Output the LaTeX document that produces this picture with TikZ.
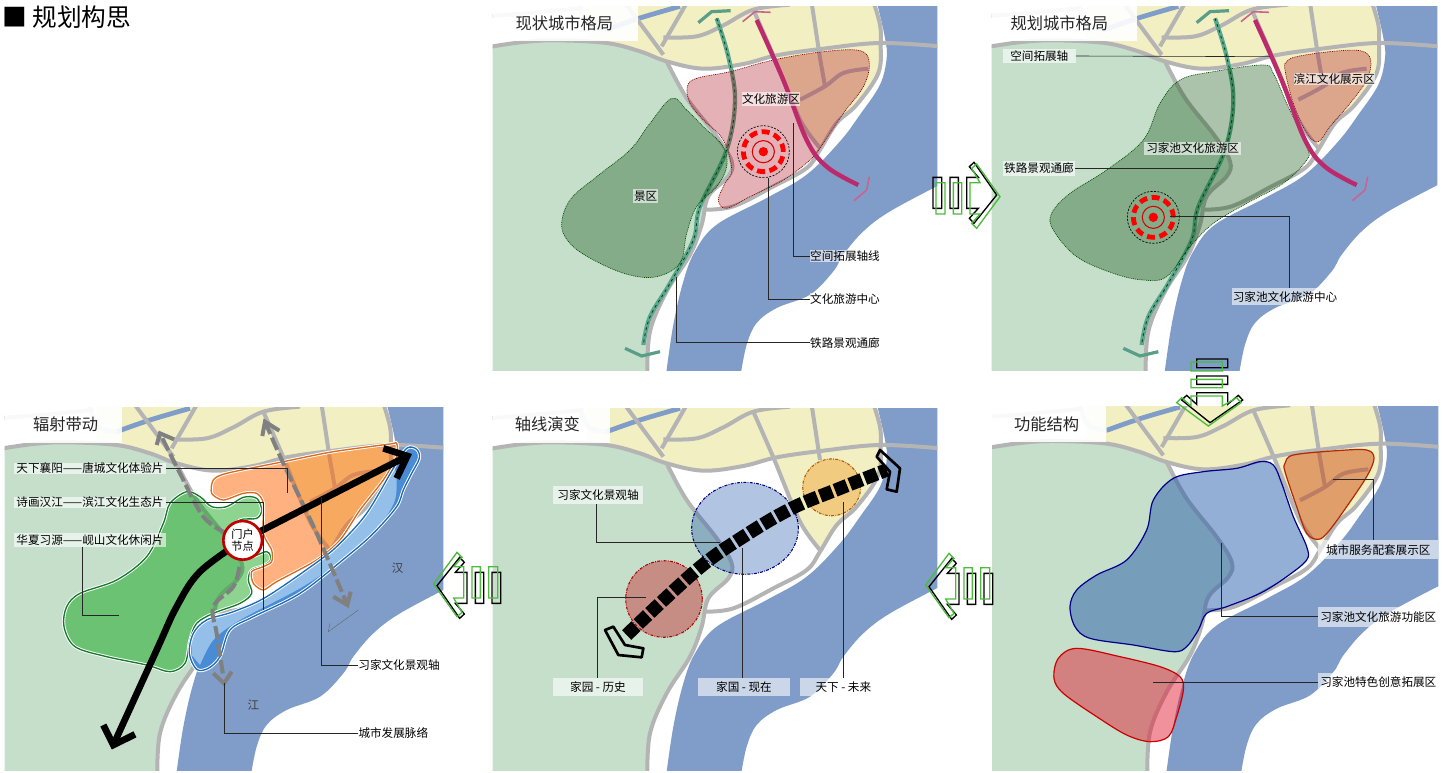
\documentclass[tikz,border=0pt]{standalone}
\usepackage{fontspec}
\newfontfamily\cjk{Noto Sans CJK SC}
\usetikzlibrary{calc}
\definecolor{land}{HTML}{C5DFCB}
\definecolor{yel}{HTML}{F2EFC2}
\definecolor{riv}{HTML}{7F9DC8}
\definecolor{roadc}{HTML}{B4B4B4}
\definecolor{pinkax}{HTML}{BC2A6C}
\definecolor{pinkhd}{HTML}{C8648F}
\definecolor{greenax}{HTML}{5AA68E}
\definecolor{greenhd}{HTML}{5A9E88}
\definecolor{flowgreen}{HTML}{4CBB3C}
\definecolor{bzdark}{HTML}{4A8BD6}
\definecolor{bzlight}{HTML}{93BFE8}
\definecolor{bzline}{HTML}{1A6BB8}
\definecolor{ozline}{HTML}{D86A1E}
\definecolor{gzline}{HTML}{157A2C}
\tikzset{
  roadline/.style={draw=roadc,line width=3pt,line join=round},
  lead/.style={draw=black!85,line width=.45pt},
  labtxt/.style={font=\cjk\fontsize{8.7}{10}\selectfont,inner sep=0pt},
  labbox/.style={labtxt,fill=white,fill opacity=.6,text opacity=1},
  ttl/.style={font=\cjk\fontsize{12.2}{14}\selectfont,inner sep=0pt,text=black!85},
  dotz/.style={draw=#1,line width=.5pt,dash pattern=on .7pt off .7pt},
  grayarrow/.style={draw=black!50,line width=3pt,dash pattern=on 10pt off 3pt},
  grayhead/.style={draw=black!50,line width=3pt},
  blackarrow/.style={draw=black,line width=5pt},
  blackhead/.style={draw=black,line width=5pt,miter limit=10},
  endbox/.style={draw=black,line width=2pt,line join=round},
}
\newcommand\lab[6]{\node[labbox,minimum width=#4*.25pt,minimum height=#5*.25pt] (#1) at (#2,#3) {#6};}
\newcommand\basemap{%
  \fill[land] plot[smooth,tension=.6] coordinates {(-10,148)(100,132)(200,127)(350,135)(450,160)(530,190)(590,300)(680,415)(725,490)(715,535)(655,595)(635,680)(600,770)(530,880)(480,1000)(472,1130)} -- (-10,1130) -- cycle;
  \fill[yel] plot[smooth,tension=.6] coordinates {(1150,10)(1170,80)(1172,135)(1165,225)(1100,320)(1040,375)(990,450)} -- plot[smooth,tension=.5] coordinates {(990,450)(930,365)(850,172)} -- plot[smooth,tension=.6] coordinates {(850,172)(760,198)(640,212)(530,190)(450,160)(350,135)(290,128)} -- (290,10) -- cycle;
  \fill[riv] plot[smooth,tension=.6] coordinates {(1160,10)(1185,120)(1190,180)(1170,260)(1110,350)(1050,430)(950,530)(830,600)(680,680)(615,760)(580,850)(550,980)(528,1130)} -- plot[smooth,tension=.6] coordinates {(752,1130)(770,1040)(800,975)(860,930)(960,890)(1030,820)(1060,770)(1120,700)(1200,640)(1350,560)} -- (1350,10) -- cycle;
  \draw[riv,line width=3.6pt] plot[smooth,tension=.6] coordinates {(350,95)(450,60)(570,25)};
  \draw[riv!45,line width=3.6pt] plot[smooth,tension=.6] coordinates {(270,20)(295,80)(350,95)};
  \draw[roadc!70,line width=3pt] plot[smooth,tension=.6] coordinates {(-10,55)(120,45)(280,30)};
  \draw[roadline] plot[smooth,tension=.6] coordinates {(-10,148)(100,132)(200,127)(350,135)(450,160)(530,190)(640,212)(760,198)(860,172)(1000,152)(1170,135)(1350,145)};
  \draw[roadline] plot[smooth,tension=.6] coordinates {(530,190)(590,300)(680,415)(725,490)(715,535)(655,595)(635,680)(600,770)(530,880)(480,1000)(472,1130)};
  \draw[roadline] (405,15) -- (520,170);
  \draw[roadline] (590,15) -- (515,145);
  \draw[roadline] plot[smooth,tension=.6] coordinates {(520,118)(620,115)(700,82)(790,35)(900,20)};
  \draw[roadline] plot[smooth,tension=.5] coordinates {(790,35)(850,172)(930,365)(990,450)};
  \draw[roadline] (965,15) -- (990,180);
  \draw[roadline] plot[smooth,tension=.6] coordinates {(1150,10)(1170,80)(1172,135)(1165,225)(1100,320)(1040,375)(990,455)(950,510)(850,565)(730,625)(640,635)};
}
\newcommand\localroads{%
  \draw[roadline] (990,180) -- (1005,265);
  \draw[roadline] plot[smooth,tension=.6] coordinates {(930,305)(1005,265)(1060,225)(1135,212)};
}
\newcommand\mapin[7]{%
  \begin{scope}
    \clip (#3,#4) rectangle (#5,#6);
    \begin{scope}[shift={(#1,#2)}]
      \basemap #7
    \end{scope}
  \end{scope}}
\newcommand\target[1]{%
  \draw[black,line width=.5pt,dash pattern=on 1.6pt off 1pt] (#1) circle[radius=19.5pt];
  \draw[red,line width=3.6pt,dash pattern=on 6pt off 3.4pt] (#1) circle[radius=15pt];
  \draw[red!85!black,line width=.8pt] (#1) circle[radius=8.3pt];
  \fill[red] (#1) circle[radius=3.5pt];
}
\newcommand\greenaxis{%
  \draw[greenax,line width=3.2pt] plot[smooth,tension=.6] coordinates {(680,55)(715,170)(735,300)(710,450)(630,620)(610,720)(540,850)(480,950)(460,1035)};
  \draw[black!75!green,line width=.6pt,dash pattern=on 2pt off 2.6pt] plot[smooth,tension=.6] coordinates {(680,55)(715,170)(735,300)(710,450)(630,620)(610,720)(540,850)(480,950)(460,1035)};
  \draw[greenhd,line width=2.4pt] (625,68) -- (665,35) -- (722,32);
  \draw[greenhd,line width=2.4pt] (405,1045) -- (455,1068) -- (510,1055);
}
\newcommand\pinkaxis{%
  \draw[pinkax,line width=3.3pt] plot[smooth,tension=.6] coordinates {(800,60)(880,240)(950,420)(1010,500)(1105,555)};
  \draw[pinkhd,line width=1.2pt] (758,65) -- (795,35) -- (842,37);
  \draw[pinkhd,line width=1.2pt] (1092,602) -- (1130,570) -- (1138,530);
}
\newcommand\flowicon[3]{%
  \begin{scope}[shift={(#1,#2)},rotate=#3]
    \draw[black,line width=1pt] (-101,-48) rectangle (-75,45) (-50,-48) rectangle (-25,45)
      (0,-48) -- (35,-48) -- (8,-80) -- (22,-93) -- (90,5) -- (22,90) -- (8,75) -- (35,45) -- (0,45) -- cycle;
    \draw[flowgreen,line width=1pt] (-92,-32) rectangle (-65,62) (-40,-32) rectangle (-15,62)
      (10,-32) -- (40,-32) -- (15,-75) -- (30,-88) -- (100,10) -- (30,105) -- (15,90) -- (40,62) -- (10,62) -- cycle;
  \end{scope}}
\begin{document}
\begin{tikzpicture}[x=.25pt,y=-.25pt]
\useasboundingbox (0,0) rectangle (4326,2316);
\fill[white] (0,0) rectangle (4326,2316);
\node[anchor=west,font=\cjk\fontsize{18.5}{20}\selectfont,inner sep=0pt] (heading) at (6,51) {■ 规划构思};
% ---------------- top middle
\mapin{1470}{-6}{1478}{18}{2812}{1110}{\localroads}
\begin{scope}[shift={(1470,0)}]
  \fill[white,fill opacity=.9] (8,18) rectangle (445,122);
  \node[ttl] (t1) at (223,70) {现状城市格局};
  \greenaxis
  \path[fill={rgb,255:red,168;green,0;blue,15},fill opacity=.3,dotz=red!50!black] plot[smooth cycle,tension=.6] coordinates {(592,260)(620,235)(720,215)(850,180)(1000,155)(1110,152)(1138,190)(1120,260)(1060,340)(1000,430)(960,480)(880,540)(780,590)(710,625)(685,600)(705,550)(725,510)(700,420)(640,360)(600,310)};
  \path[fill={rgb,255:red,0;green,70;blue,0},fill opacity=.33,dotz=black!70!green] plot[smooth cycle,tension=.6] coordinates {(545,295)(590,330)(640,380)(700,440)(710,500)(680,560)(620,620)(590,700)(570,790)(500,830)(420,825)(330,790)(250,740)(215,680)(240,600)(320,530)(420,450)(480,370)};
  \pinkaxis
  \coordinate (tc1) at (820,455);
  \target{tc1}
  \lab{a1}{843}{298}{175}{42}{文化旅游区}
  \lab{a2}{467}{588}{75}{40}{景区}
  \lab{a3}{1065}{768}{210}{36}{空间拓展轴线}
  \lab{a4}{1065}{898}{210}{36}{文化旅游中心}
  \lab{a5}{1065}{1028}{210}{36}{铁路景观通廊}
  \coordinate (a3s) at (910,370);
  \coordinate (a4s) at (835,535);
  \coordinate (a5s) at (558,830);
  \draw[lead] (a3s) |- (a3.west);
  \draw[lead] (a4s) |- (a4.west);
  \draw[lead] (a5s) |- (a5.west);
\end{scope}
% ---------------- top right
\mapin{2965}{-6}{2975}{18}{4312}{1110}{\localroads}
\begin{scope}[shift={(2790,0)}]
  \fill[white,fill opacity=.9] (185,18) rectangle (620,122);
  \node[ttl] (t2) at (388,70) {规划城市格局};
  \begin{scope}[shift={(175,0)}]\greenaxis\end{scope}
  \path[fill={rgb,255:red,0;green,70;blue,0},fill opacity=.33,dotz=black!70!green] plot[smooth cycle,tension=.6] coordinates {(1000,195)(1030,220)(1070,310)(1130,440)(1130,480)(1060,550)(950,610)(850,670)(780,740)(710,830)(640,840)(550,820)(440,770)(370,690)(365,640)(420,580)(530,510)(640,420)(690,310)(750,240)(850,215)};
  \path[fill={rgb,255:red,168;green,0;blue,15},fill opacity=.3,dotz=red!50!black] plot[smooth cycle,tension=.6] coordinates {(1100,170)(1200,155)(1290,152)(1322,180)(1310,240)(1260,310)(1200,380)(1165,425)(1130,400)(1090,310)(1065,210)(1070,185)};
  \begin{scope}[shift={(175,0)}]\pinkaxis\end{scope}
  \coordinate (tc2) at (670,652);
  \target{tc2}
  \lab{b1}{328}{168}{218}{43}{空间拓展轴}
  \lab{b2}{1213}{237}{245}{36}{滨江文化展示区}
  \lab{b3}{788}{445}{290}{40}{习家池文化旅游区}
  \lab{b4}{327}{505}{215}{44}{铁路景观通廊}
  \lab{b5}{1065}{890}{320}{50}{习家池文化旅游中心}
  \coordinate (b1e) at (1020,170);
  \coordinate (b4e) at (860,505);
  \coordinate (b5s) at (720,650);
  \coordinate (b5k) at (1078,650);
  \draw[lead] (b1.east) -- (b1e);
  \draw[lead] (b4.east) -- (b4e);
  \draw[lead] (b5s) -- (b5k) -- (b5k |- b5.north);
\end{scope}
% ---------------- bottom left
\mapin{0}{1200}{14}{1222}{1330}{2312}{\localroads}
\begin{scope}[shift={(0,1200)}]
  \fill[white,fill opacity=.9] (14,22) rectangle (365,130);
  \node[ttl] (t3) at (197,74) {辐射带动};
  \path[fill={rgb,255:red,0;green,160;blue,10},fill opacity=.45,postaction={draw=white,line width=2.4pt},postaction={draw=gzline,line width=1pt}] plot[smooth cycle,tension=.55] coordinates {(560,275)(600,290)(635,320)(680,320)(730,292)(770,295)(785,330)(770,355)(720,360)(700,400)(740,470)(800,455)(812,480)(790,497)(755,510)(745,540)(755,580)(720,610)(640,640)(590,670)(570,720)(555,790)(510,815)(440,795)(320,770)(225,740)(192,680)(200,620)(240,580)(350,540)(440,470)(490,370)(510,310)};
  \path[fill={rgb,255:red,255;green,100;blue,0},fill opacity=.5,postaction={draw=white,line width=2.4pt},postaction={draw=ozline,line width=1pt}] plot[smooth cycle,tension=.45] coordinates {(1190,130)(1170,132)(1000,155)(850,185)(680,220)(640,240)(635,280)(670,300)(730,280)(770,280)(790,310)(790,400)(815,450)(815,485)(790,500)(755,515)(760,550)(790,570)(830,545)(950,480)(1020,420)(1080,330)(1150,240)(1190,170)};
  \fill[bzdark] plot[smooth cycle,tension=.55] coordinates {(1220,145)(1250,148)(1258,175)(1235,220)(1210,270)(1190,320)(1120,400)(1040,470)(900,580)(760,650)(690,690)(660,770)(625,805)(590,808)(568,760)(580,700)(620,660)(700,635)(800,590)(960,480)(1020,430)(1100,340)(1180,205)};
  \fill[bzlight] plot[smooth,tension=.5] coordinates {(575,765)(580,700)(620,660)(700,635)(800,590)(960,480)(1020,430)(1100,340)(1180,205)(1185,300)(1120,400)(1020,485)(900,565)(720,660)(640,720)(600,795)} -- cycle;
  \path[postaction={draw=white,line width=2.4pt},postaction={draw=bzline,line width=1pt}] plot[smooth cycle,tension=.55] coordinates {(1220,145)(1250,148)(1258,175)(1235,220)(1210,270)(1190,320)(1120,400)(1040,470)(900,580)(760,650)(690,690)(660,770)(625,805)(590,808)(568,760)(580,700)(620,660)(700,635)(800,590)(960,480)(1020,430)(1100,340)(1180,205)};
  \coordinate (gatec) at (728,421);
  \coordinate (gx1) at (480,100);
  \coordinate (gx2a) at (795,65);
  \coordinate (gx2b) at (1042,615);
  \coordinate (gx3) at (672,850);
  \draw[grayarrow] plot[smooth,tension=.6] coordinates {(680,400)(610,350)(540,220)(480,100)};
  \draw[grayarrow] plot[smooth,tension=.6] coordinates {(795,65)(850,190)(950,400)(1042,615)};
  \draw[grayarrow] plot[smooth,tension=.6] coordinates {(718,500)(700,560)(640,620)(650,700)(670,830)};
  \draw[grayhead] (470,135) -- (gx1) -- (522,118);
  \draw[grayhead] (787,108) -- (gx2a) -- (838,92);
  \draw[grayhead] (1000,590) -- (gx2b) -- (1052,575);
  \draw[grayhead] (640,820) -- (gx3) -- (695,815);
  \draw[black!60,line width=.3pt] (1075,630) -- (985,695) -- (990,670);
  \coordinate (bk1) at (1222,168);
  \coordinate (bk2) at (340,1035);
  \draw[blackarrow] (gatec) -- (bk1);
  \draw[blackarrow] plot[smooth,tension=.6] coordinates {(gatec)(600,515)(530,620)(470,750)(340,1035)};
  \draw[blackhead] (1150,145) -- (bk1) -- (1190,235);
  \draw[blackhead] (310,975) -- (bk2) -- (405,1003);
  \node[circle,draw=red!75!black,fill=white,line width=2pt,minimum size=29pt,inner sep=0pt,align=center,font=\cjk\fontsize{8.4}{9}\selectfont] (gate) at (gatec) {门户\\节点};
  \lab{c1}{270}{205}{456}{34}{天下襄阳——唐城文化体验片}
  \lab{c2}{270}{307}{456}{34}{诗画汉江——滨江文化生态片}
  \lab{c3}{270}{419}{456}{42}{华夏习源——岘山文化休闲片}
  \node[labtxt] (c4) at (1197,795) {习家文化景观轴};
  \node[labtxt] (c5) at (1180,1000) {城市发展脉络};
  \node[labtxt,text=black!75] (han) at (1193,505) {汉};
  \node[labtxt,text=black!75] (jiang) at (760,915) {江};
  \coordinate (c1e) at (862,280);
  \coordinate (c2e) at (790,630);
  \coordinate (c3s) at (248,440);
  \coordinate (c3e) at (358,645);
  \coordinate (c4s) at (965,290);
  \draw[lead] (c1.east) -| (c1e);
  \draw[lead] (c2.east) -| (c2e);
  \draw[lead] (c3s) |- (c3e);
  \draw[lead] (c4s) |- (c4.west);
  \draw[lead] (gx3) |- (c5.west);
\end{scope}
% ---------------- bottom middle
\mapin{1470}{1200}{1478}{1224}{2812}{2312}{}
\begin{scope}[shift={(1470,1200)}]
  \fill[white,fill opacity=.9] (8,24) rectangle (360,130);
  \node[ttl] (t4) at (172,74) {轴线演变};
  \coordinate (oc1) at (522,597);
  \coordinate (oc2) at (765,385);
  \coordinate (oc3) at (1025,262);
  \draw[fill={rgb,255:red,200;green,20;blue,30},fill opacity=.4,draw=red!70!black,line width=.8pt,dash pattern=on 2.2pt off 1pt on .6pt off 1pt] (oc1) circle[radius=28.7pt];
  \draw[fill={rgb,255:red,32;green,88;blue,171},fill opacity=.35,draw=blue!50!black,line width=.8pt,dash pattern=on 2.2pt off 1pt on .6pt off 1pt] (oc2) ellipse[x radius=40pt,y radius=34.5pt];
  \draw[fill={rgb,255:red,240;green,150;blue,30},fill opacity=.4,draw=orange!70!black,line width=.8pt,dash pattern=on 2.2pt off 1pt on .6pt off 1pt] (oc3) ellipse[x radius=21.7pt,y radius=21.3pt];
  \draw[black,line width=10pt,dash pattern=on 9.7pt off 2.3pt] plot[smooth,tension=.6] coordinates {(410,705)(620,510)(760,410)(905,325)(1050,265)(1190,210)};
  \draw[endbox] (1170,150) -- (1230,205) -- (1220,275) -- (1190,268) -- (1200,215) -- (1160,170) -- cycle;
  \draw[endbox] (345,690) -- (370,680) -- (405,735) -- (460,745) -- (455,772) -- (385,765) -- cycle;
  \lab{d1}{324}{285}{268}{54}{习家文化景观轴}
  \lab{d2}{324}{861}{268}{55}{家园 - 历史}
  \lab{d3}{762}{861}{276}{55}{家国 - 现在}
  \lab{d4}{1060}{861}{260}{55}{天下 - 未来}
  \coordinate (d1e) at (690,427);
  \coordinate (d2e) at (468,592);
  \coordinate (d3e) at (757,445);
  \coordinate (d4e) at (1060,305);
  \draw[lead] (d1.south -| 320,0) |- (d1e);
  \draw[lead] (d2.north -| 322,0) |- (d2e);
  \draw[lead] (d3.north -| d3e) -- (d3e);
  \draw[lead] (d4.north -| d4e) -- (d4e);
\end{scope}
% ---------------- bottom right
\mapin{2970}{1196}{2976}{1218}{4315}{2310}{\localroads}
\begin{scope}[shift={(2760,1200)}]
  \fill[white,fill opacity=.9] (216,18) rectangle (558,125);
  \node[ttl] (t5) at (380,72) {功能结构};
  \draw[fill={rgb,255:red,32;green,88;blue,171},fill opacity=.48,draw=blue!55!black,line width=.9pt] plot[smooth cycle,tension=.55] coordinates {(1020,185)(1060,195)(1085,250)(1120,350)(1160,440)(1160,480)(1100,530)(1020,580)(920,620)(860,640)(835,690)(800,740)(760,755)(640,735)(510,715)(465,680)(450,620)(470,570)(530,525)(620,480)(680,390)(700,300)(760,235)(850,215)(950,205)};
  \draw[fill={rgb,255:red,200;green,60;blue,0},fill opacity=.45,draw=red!55!orange!70!black,line width=.9pt] plot[smooth cycle,tension=.55] coordinates {(1120,165)(1250,152)(1340,150)(1362,175)(1340,230)(1280,320)(1225,395)(1195,418)(1160,400)(1130,320)(1095,215)(1095,190)};
  \draw[fill={rgb,255:red,225;green,27;blue,48},fill opacity=.48,draw=red!80!black,line width=.9pt] plot[smooth cycle,tension=.55] coordinates {(470,745)(600,770)(720,800)(780,830)(790,870)(770,950)(745,1010)(690,1025)(620,1005)(530,950)(430,880)(402,835)(415,775)};
  \lab{e1}{1375}{449}{360}{58}{城市服务配套展示区}
  \lab{e2}{1375}{650}{360}{60}{习家池文化旅游功能区}
  \lab{e3}{1375}{846}{360}{56}{习家池特色创意拓展区}
  \coordinate (e1s) at (1240,237);
  \coordinate (e1k) at (1360,237);
  \coordinate (e2s) at (905,430);
  \coordinate (e3s) at (700,846);
  \draw[lead] (e1s) -- (e1k) -- (e1k |- e1.north);
  \draw[lead] (e2s) |- (e2.west);
  \draw[lead] (e3s) -- (e3.west);
\end{scope}
% ---------------- flow icons
\flowicon{2900}{580}{0}
\flowicon{3635}{1178}{-90}
\flowicon{1401}{1762}{180}
\flowicon{2877}{1765}{180}
\end{tikzpicture}
\end{document}
